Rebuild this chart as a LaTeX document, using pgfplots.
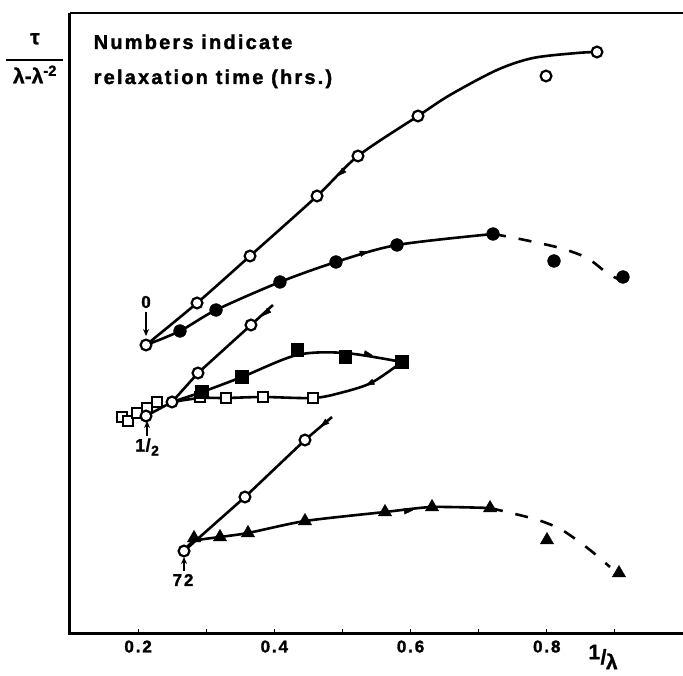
\documentclass[border=0pt]{standalone}
\usepackage{fontspec}
\setmainfont{Liberation Sans}[FakeBold=1.2]
\newfontfamily\lettering{Liberation Sans}[LetterSpace=11, FakeBold=1.6]
\usepackage{pgfplots}
\pgfplotsset{compat=1.18}
\usetikzlibrary{arrows.meta}

\pgfplotsset{
  opencirc/.style={only marks, mark=*, mark size=5.4pt,
    mark options={fill=white, draw=black, line width=2.2pt}},
  fillcirc/.style={only marks, mark=*, mark size=6.4pt,
    mark options={fill=black, draw=black}},
  opensq/.style={only marks, mark=square*, mark size=5pt,
    mark options={fill=white, draw=black, line width=2.2pt}},
  fillsq/.style={only marks, mark=square*, mark size=6.3pt,
    mark options={fill=black, draw=black}},
  filltri/.style={only marks, mark=triangle*, mark size=7.6pt,
    mark options={fill=black, draw=black}},
  arrowhead/.style={only marks, mark=triangle*, mark size=5.5pt,
    mark options={rotate=#1, xscale=0.6, fill=black, draw=black}},
  curve/.style={black, line width=2.6pt, no marks},
}

\begin{document}
\begin{tikzpicture}
\useasboundingbox (-70pt,-42pt) rectangle (613pt,633pt);
\begin{axis}[
  scale only axis, width=613pt, height=620pt,
  xmin=0.1, xmax=1.0, ymin=0, ymax=620,
  axis line style={draw=none},
  xtick={0.2,0.4,0.6,0.8},
  minor xtick={0.3,0.5,0.7,0.9},
  ytick=\empty,
  xtick pos=bottom, tick align=inside,
  major tick length=4pt, minor tick length=4pt,
  tick style={line width=1.2pt, black},
  xticklabel style={font=\lettering\bfseries\fontsize{17}{18}\selectfont, yshift=-4pt},
  /pgf/number format/assume math mode=true,
  clip=false,
]
% frame
\draw[line width=3pt] (rel axis cs:0,1) -- (rel axis cs:0,0) -- (rel axis cs:1,0);
\draw[line width=2.5pt] (rel axis cs:0,1) -- (rel axis cs:1,1);
\draw[line width=1pt, black!60] (rel axis cs:1,1) -- (rel axis cs:1,0);

% 0 hrs, open circles (top)
\addplot[curve, smooth, tension=0.5] coordinates {
  (0.2116,288) (0.2865,330) (0.3643,377) (0.4627,437) (0.5228,477)
  (0.6109,517) (0.6579,538) (0.7269,563) (0.7798,575) (0.8444,580) (0.8737,581)};
% 0 hrs, filled circles
\addplot[curve, smooth, tension=0.5] coordinates {
  (0.2116,288) (0.2615,302) (0.3144,323) (0.4083,351) (0.4905,371)
  (0.5801,388) (0.7211,399)};
\addplot[curve, smooth, dash pattern=on 13pt off 13pt] coordinates {
  (0.7211,399) (0.7607,394) (0.8194,385) (0.8591,375) (0.8884,360) (0.9075,353)};
% 1/2 hr, open circles
\addplot[curve] coordinates {
  (0.2116,217) (0.2498,231) (0.2879,260) (0.3657,308) (0.3980,328)};
% 1/2 hr loop, filled squares (upper) and open squares (lower)
\addplot[curve, smooth, tension=0.5] coordinates {
  (0.2498,231) (0.2938,241) (0.3525,256) (0.4333,278) (0.5038,280) (0.5874,271)};
\addplot[curve, smooth, tension=0.5] coordinates {
  (0.2498,231) (0.2909,235) (0.3290,235) (0.3834,236) (0.4568,235)
  (0.4964,240) (0.5419,250) (0.5874,271)};
% 72 hrs, open circles
\addplot[curve] coordinates {
  (0.2674,82) (0.3569,136) (0.4450,193) (0.4847,216)};
% 72 hrs, triangles
\addplot[curve, smooth, tension=0.4] coordinates {
  (0.2674,82) (0.2821,92) (0.3202,96) (0.3613,100) (0.4450,112)
  (0.5625,121) (0.6315,126) (0.7167,125)};
\addplot[curve, smooth, dash pattern=on 13pt off 13pt] coordinates {
  (0.7167,125) (0.7475,120) (0.7871,113) (0.8224,103) (0.8635,83) (0.8928,66)};

% marks
\addplot[opencirc] coordinates {
  (0.2116,288) (0.2865,330) (0.3643,377) (0.4627,437) (0.5228,477)
  (0.6109,517) (0.7989,557) (0.8737,581)};
\addplot[fillcirc] coordinates {
  (0.2615,302) (0.3144,323) (0.4083,351) (0.4905,371) (0.5801,388)
  (0.7211,399) (0.8106,372) (0.9119,356)};
\addplot[opensq] coordinates {
  (0.1763,216) (0.1852,212) (0.1984,220) (0.2131,225) (0.2277,231)
  (0.2909,236) (0.3290,235) (0.3834,236) (0.4568,235)};
\addplot[fillsq] coordinates {
  (0.2938,241) (0.3525,256) (0.4333,283) (0.5038,276) (0.5874,271)};
\addplot[opencirc] coordinates {
  (0.2116,217) (0.2498,231) (0.2879,260) (0.3657,308)};
\addplot[opencirc] coordinates {
  (0.2674,82) (0.3569,136) (0.4450,193)};
\addplot[filltri] coordinates {
  (0.2821,95) (0.3202,96) (0.3613,100) (0.4450,112) (0.5625,121)
  (0.6315,126) (0.7167,125) (0.8003,93) (0.9060,60)};

% direction arrowheads
\addplot[arrowhead=134] coordinates {(0.4994,461)};
\addplot[arrowhead=-74] coordinates {(0.5302,380)};
\addplot[arrowhead=132] coordinates {(0.3892,321)};
\addplot[arrowhead=-103] coordinates {(0.5361,279)};
\addplot[arrowhead=115] coordinates {(0.5419,250)};
\addplot[arrowhead=130] coordinates {(0.4744,210)};
\addplot[arrowhead=-84] coordinates {(0.5948,122)};

% annotations
\node[font=\lettering\bfseries\fontsize{20}{24}\selectfont, anchor=base west]
  at (axis cs:0.1296,584) {Numbers indicate};
\node[font=\lettering\bfseries\fontsize{20}{24}\selectfont, anchor=base west]
  at (axis cs:0.1296,549) {relaxation time (hrs.)};
\node[font=\bfseries\fontsize{21}{24}\selectfont, inner sep=0pt] at (axis cs:0.0486,574)
  {\begin{tabular}{@{}c@{}}τ\\[-7pt]\rule{57pt}{2.2pt}\\[-3pt]λ-λ\textsuperscript{-2}\end{tabular}};

\node[font=\lettering\bfseries\fontsize{17}{20}\selectfont] at (axis cs:0.2116,331) {0};
\draw[line width=1.8pt, -{Stealth[length=7pt,width=6pt]}] (axis cs:0.2116,321) -- (axis cs:0.2116,297);
\node[font=\bfseries\fontsize{18}{20}\selectfont] at (axis cs:0.2131,186)
  {1\kern0.5pt/\kern0.5pt\raisebox{-4pt}{\fontsize{14}{14}\selectfont 2}};
\draw[line width=1.8pt, -{Stealth[length=7pt,width=6pt]}] (axis cs:0.2131,197) -- (axis cs:0.2131,212);
\node[font=\lettering\bfseries\fontsize{17}{20}\selectfont] at (axis cs:0.2659,53) {72};
\draw[line width=1.8pt, -{Stealth[length=7pt,width=6pt]}] (axis cs:0.2674,62) -- (axis cs:0.2674,76);
\node[font=\bfseries\fontsize{21}{24}\selectfont] at (axis cs:0.8826,-24)
  {\raisebox{5pt}{1}\kern0.5pt/\kern-0.5pt\raisebox{-5pt}{λ}};
\end{axis}
\end{tikzpicture}
\end{document}
